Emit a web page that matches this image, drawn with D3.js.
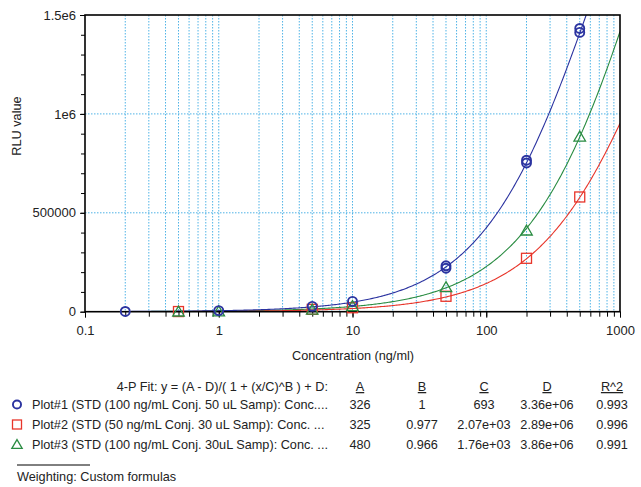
<!DOCTYPE html>
<html>
<head>
<meta charset="utf-8">
<script src="https://cdn.jsdelivr.net/npm/d3@7"></script>
<style>
  html, body { margin: 0; padding: 0; background: #fff; }
  text { font-family: "Liberation Sans", Arial, sans-serif; fill: #222; }
</style>
</head>
<body>
<svg id="chart" width="641" height="487"></svg>
<script>
// ---- data ----
const seriesNames = [
  "Plot#1 (STD (100 ng/mL Conj. 50 uL Samp): Conc....",
  "Plot#2 (STD (50 ng/mL Conj. 30 uL Samp): Conc. ...",
  "Plot#3 (STD (100 ng/mL Conj. 30uL Samp): Conc. ..."
];
const seriesColors = ["#2b33a0", "#e8352a", "#2a8c42"];
const seriesMarkers = ["circle", "square", "triangle"];

const plot1X = [0.2, 1, 5, 10, 50, 50, 200, 200, 500, 500];
const plot1Y = [1200, 5500, 27000, 52000, 220000, 232000, 752000, 766000, 1412000, 1432000];
const plot2X = [0.5, 5, 10, 50, 200, 500];
const plot2Y = [800, 12000, 20000, 78000, 270000, 580000];
const plot3X = [0.5, 1, 5, 10, 50, 200, 500];
const plot3Y = [500, 1500, 10000, 28000, 124000, 410000, 885000];

// 4-P fit parameters shown in the table
const fitA = [326, 325, 480];
const fitB = [1, 0.977, 0.966];
const fitC = [693, 2070, 1760];
const fitD = [3.36e6, 2.89e6, 3.86e6];
const tableA = ["326", "325", "480"];
const tableB = ["1", "0.977", "0.966"];
const tableC = ["693", "2.07e+03", "1.76e+03"];
const tableD = ["3.36e+06", "2.89e+06", "3.86e+06"];
const tableR2 = ["0.993", "0.996", "0.991"];
const tableHeaders = ["A", "B", "C", "D", "R^2"];

const xMajorTicks = [0.1, 1, 10, 100, 1000];
const xTickLabels = ["0.1", "1", "10", "100", "1000"];
const yMajorTicks = [0, 500000, 1000000, 1500000];
const yTickLabels = ["0", "500000", "1e6", "1.5e6"];

// ---- layout ----
const FS = 12.7;
const svg = d3.select("#chart");
const L = 85, R = 620, T = 15, B = 311.7;
const x = d3.scaleLog().domain([0.1, 1000]).range([L, R]);
const y = d3.scaleLinear().domain([0, 1500000]).range([B, T]);

const xMinor = [];
[0.1, 1, 10, 100].forEach(d => { for (let k = 1; k <= 10; k++) xMinor.push(d * k); });
const xAllTicks = Array.from(new Set(xMinor.map(v => +v.toPrecision(6))));
const yMinor = d3.range(0, 1500001, 100000);

// grid
const grid = svg.append("g");
grid.selectAll("line.v").data(xAllTicks.filter(v => v > 0.1 && v < 1000)).join("line")
  .attr("x1", d => x(d)).attr("x2", d => x(d)).attr("y1", T).attr("y2", B)
  .attr("stroke", "#4fb3e6").attr("stroke-width", 1).attr("stroke-dasharray", "1.5,1.5");
grid.selectAll("line.h").data([500000, 1000000]).join("line")
  .attr("x1", L).attr("x2", R).attr("y1", d => y(d)).attr("y2", d => y(d))
  .attr("stroke", "#4fb3e6").attr("stroke-width", 1).attr("stroke-dasharray", "1.5,1.5");

// curves
svg.append("defs").append("clipPath").attr("id", "clip")
  .append("rect").attr("x", L).attr("y", T).attr("width", R - L).attr("height", B - T);
const xs = d3.range(0, 401).map(i => 0.1 * Math.pow(10, i / 100));
const line = d3.line().x(d => x(d[0])).y(d => y(d[1]));
const curves = svg.append("g").attr("clip-path", "url(#clip)");
[2, 1, 0].forEach(i => {
  const pts = xs.map(v => [v, (fitA[i] - fitD[i]) / (1 + Math.pow(v / fitC[i], fitB[i])) + fitD[i]]);
  curves.append("path").attr("d", line(pts)).attr("fill", "none")
    .attr("stroke", seriesColors[i]).attr("stroke-width", 1.1);
});

// axes
const yAxis = svg.append("g").attr("transform", `translate(${L},0)`)
  .call(d3.axisLeft(y).tickValues(yMinor).tickSize(4).tickFormat(""));
yAxis.select(".domain").remove();
svg.append("g").attr("transform", `translate(${L},0)`)
  .call(d3.axisLeft(y).tickValues(yMajorTicks).tickSize(5).tickPadding(4)
    .tickFormat((d, i) => yTickLabels[i]))
  .call(g => g.select(".domain").remove())
  .call(g => g.selectAll("text").attr("font-size", 13).attr("font-family", "Liberation Sans, Arial, sans-serif").attr("fill", "#222"));

const xAxis = svg.append("g").attr("transform", `translate(0,${B})`)
  .call(d3.axisBottom(x).tickValues(xAllTicks).tickSize(5).tickFormat(""));
xAxis.select(".domain").remove();
svg.append("g").attr("transform", `translate(0,${B})`)
  .call(d3.axisBottom(x).tickValues(xMajorTicks).tickSize(6).tickPadding(8)
    .tickFormat((d, i) => xTickLabels[i]))
  .call(g => g.select(".domain").remove())
  .call(g => g.selectAll("text").attr("font-size", 13).attr("font-family", "Liberation Sans, Arial, sans-serif").attr("fill", "#222"));
svg.selectAll(".tick line").attr("stroke", "#000");

// frame
svg.append("rect").attr("x", L).attr("y", T).attr("width", R - L).attr("height", B - T)
  .attr("fill", "none").attr("stroke", "#000").attr("stroke-width", 1.6);

// markers
function drawMarker(g, type, cx, cy, color, s) {
  if (type === "circle") {
    g.append("circle").attr("cx", cx).attr("cy", cy).attr("r", s * 0.9)
      .attr("fill", "none").attr("stroke", color).attr("stroke-width", 1.9);
  } else if (type === "square") {
    g.append("rect").attr("x", cx - s).attr("y", cy - s).attr("width", 2 * s).attr("height", 2 * s)
      .attr("fill", "none").attr("stroke", color).attr("stroke-width", 1.3);
  } else {
    const h = s * 1.1;
    g.append("path").attr("d", `M${cx},${cy - h}L${cx + s * 1.15},${cy + h * 0.8}L${cx - s * 1.15},${cy + h * 0.8}Z`)
      .attr("fill", "none").attr("stroke", color).attr("stroke-width", 1.3);
  }
}
const pts = svg.append("g");
const allX = [plot1X, plot2X, plot3X];
const allY = [plot1Y, plot2Y, plot3Y];
[1, 2, 0].forEach(i => {
  allX[i].forEach((v, j) => drawMarker(pts, seriesMarkers[i], x(v), y(allY[i][j]), seriesColors[i], 5));
});

// axis titles
svg.append("text").attr("transform", "translate(21,126) rotate(-90)").attr("text-anchor", "middle")
  .attr("font-size", FS).text("RLU value");
svg.append("text").attr("x", 353).attr("y", 360).attr("text-anchor", "middle")
  .attr("font-size", FS).text("Concentration (ng/ml)");

// fit table
svg.append("text").attr("x", 328).attr("y", 391).attr("text-anchor", "end")
  .attr("font-size", FS).text("4-P Fit: y = (A - D)/( 1 + (x/C)^B ) + D:");
const colX = [360, 422, 484, 547, 612];
tableHeaders.forEach((h, k) => {
  svg.append("text").attr("x", colX[k]).attr("y", 391).attr("text-anchor", "middle")
    .attr("font-size", FS).attr("text-decoration", "underline").text(h);
});
const rowY = [409, 429, 449];
const cols = [tableA, tableB, tableC, tableD, tableR2];
seriesNames.forEach((name, i) => {
  drawMarker(svg, seriesMarkers[i], 17, rowY[i] - 4.5, seriesColors[i], 4.5);
  svg.append("text").attr("x", 32).attr("y", rowY[i]).attr("font-size", FS).text(name);
  cols.forEach((c, k) => {
    svg.append("text").attr("x", colX[k]).attr("y", rowY[i]).attr("text-anchor", "middle")
      .attr("font-size", FS).text(c[i]);
  });
});
svg.append("line").attr("x1", 17).attr("x2", 90).attr("y1", 465).attr("y2", 465)
  .attr("stroke", "#000").attr("stroke-width", 1);
svg.append("text").attr("x", 17).attr("y", 481).attr("font-size", FS).text("Weighting: Custom formulas");
</script>
</body>
</html>
